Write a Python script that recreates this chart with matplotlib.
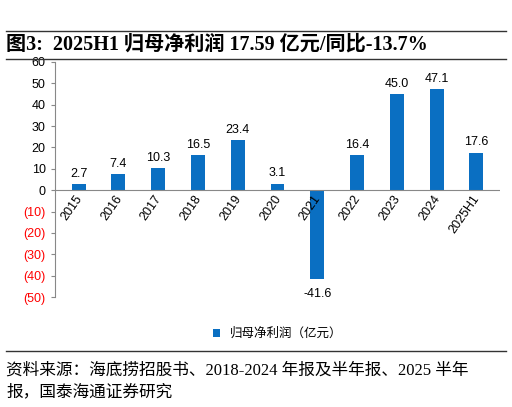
import matplotlib
matplotlib.use("Agg")
import matplotlib.pyplot as plt
from matplotlib.lines import Line2D

plt.rcParams['font.family'] = ['Noto Sans CJK SC', 'DejaVu Sans']

years = ["2015", "2016", "2017", "2018", "2019", "2020", "2021", "2022", "2023", "2024", "2025H1"]
profit = [2.7, 7.4, 10.3, 16.5, 23.4, 3.1, -41.6, 16.4, 45.0, 47.1, 17.6]
yticks = [60, 50, 40, 30, 20, 10, 0, -10, -20, -30, -40, -50]

serif = ["Liberation Serif", "Noto Sans CJK SC"]

fig = plt.figure(figsize=(5.12, 4.07), dpi=100)
ax = fig.add_axes([0.107, 0.27, 0.87, 0.578])
color = "#0a6fc2"
x = range(len(years))
ax.bar(x, profit, width=0.35, color=color, label="归母净利润（亿元）")
for i, v in zip(x, profit):
    if v >= 0:
        ax.text(i, v + 2, f"{v:.1f}", ha="center", va="bottom", fontsize=9, family=["Liberation Sans"])
    else:
        ax.text(i, v - 4, f"{v:.1f}", ha="center", va="top", fontsize=9, family=["Liberation Sans"])

ax.set_ylim(-50, 60)
ax.set_xlim(-0.6, len(years) - 0.4)
ax.set_yticks(yticks)
labels = [str(t) if t >= 0 else f"({-t})" for t in yticks]
ax.set_yticklabels(labels, fontsize=9, family=["Liberation Sans"])
for lab, t in zip(ax.get_yticklabels(), yticks):
    if t < 0:
        lab.set_color("red")
for s in ["top", "right", "bottom"]:
    ax.spines[s].set_visible(False)
ax.spines["left"].set_color("#888888")
ax.axhline(0, color="#888888", lw=0.8)
ax.set_xticks([])
for i, y in zip(x, years):
    ax.text(i + 0.15, -1.5, y, rotation=55, ha="right", va="top", fontsize=9, family=["Liberation Sans"])
ax.tick_params(axis="y", length=3, color="#888888")

ax.legend(loc="upper center", bbox_to_anchor=(0.5, -0.08), frameon=False, fontsize=9,
          handlelength=0.6, handleheight=0.6)

fig.add_artist(Line2D([0.012, 0.988], [0.925, 0.925], color="#333333", lw=1))
fig.add_artist(Line2D([0.012, 0.988], [0.855, 0.855], color="#333333", lw=1))
fig.text(0.012, 0.89, "图3:  2025H1 归母净利润 17.59 亿元/同比-13.7%", fontsize=14.5,
         fontweight="bold", va="center", family=serif)
fig.add_artist(Line2D([0.012, 0.988], [0.138, 0.138], color="#333333", lw=1))
fig.text(0.012, 0.09, "资料来源：海底捞招股书、2018-2024 年报及半年报、2025 半年", fontsize=12,
         va="center", family=serif)
fig.text(0.012, 0.035, "报，国泰海通证券研究", fontsize=12, va="center", family=serif)

fig.savefig("out.png", dpi=100)
